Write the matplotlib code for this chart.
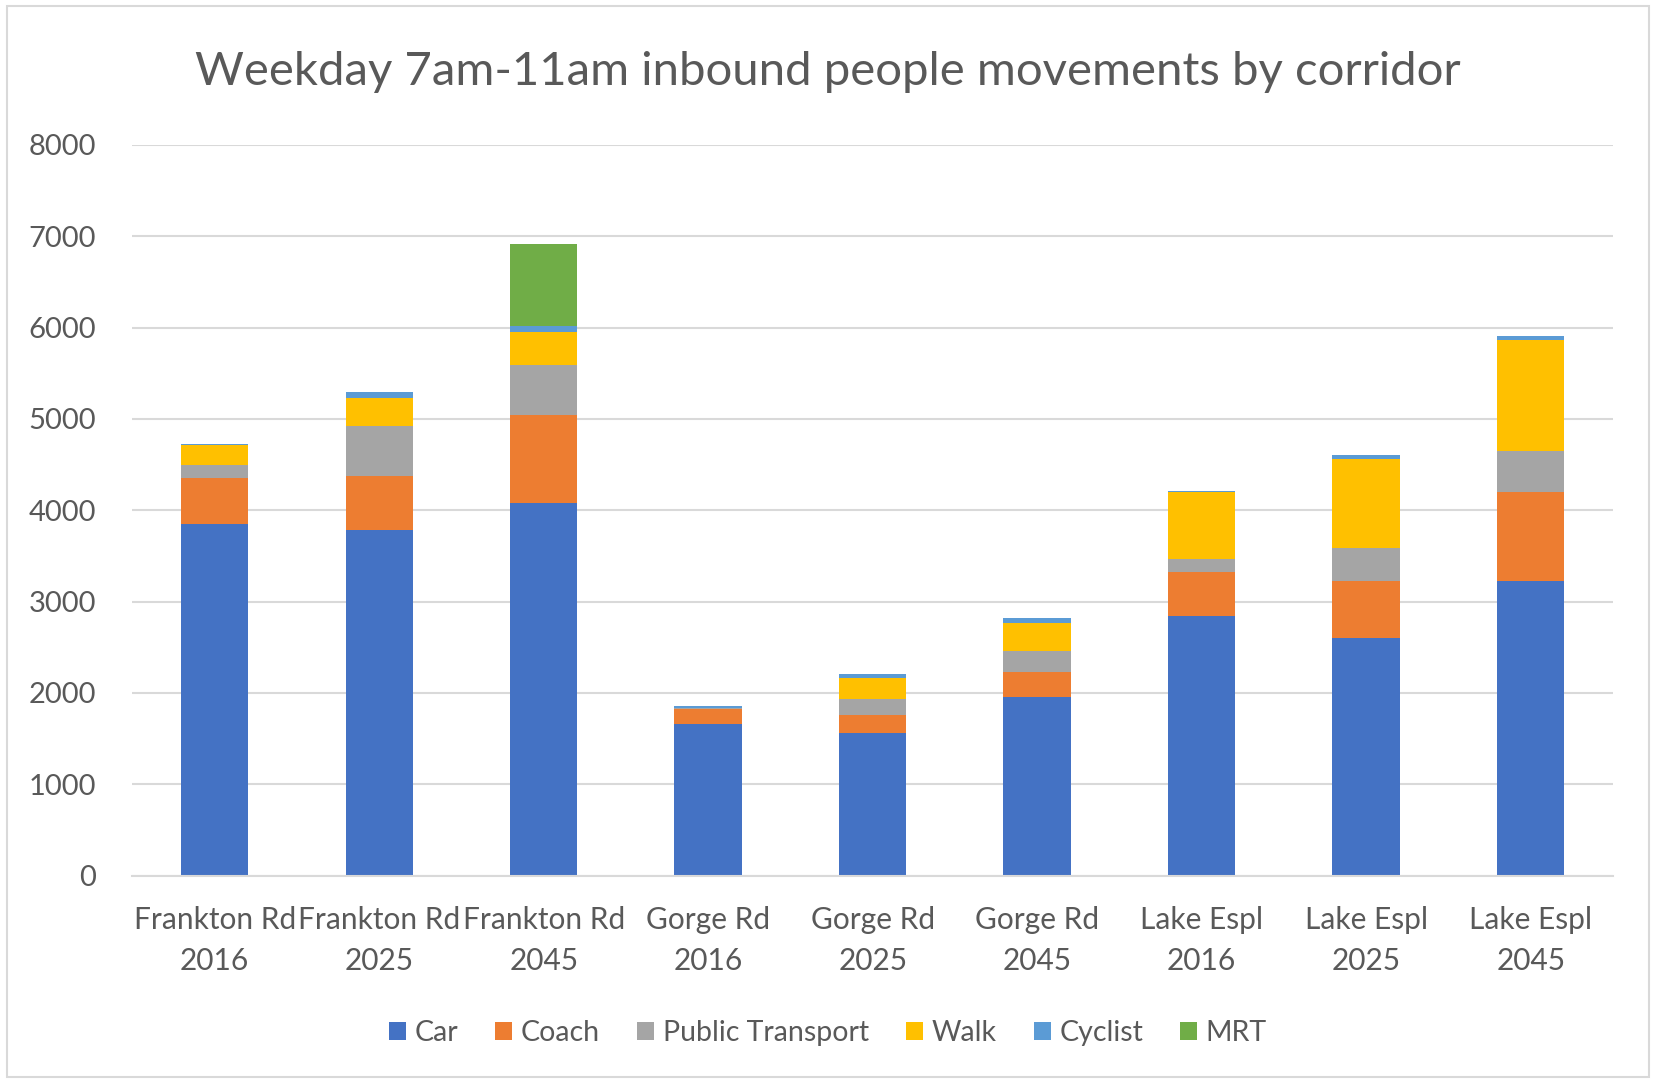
import matplotlib.pyplot as plt
import numpy as np
from matplotlib.patches import Rectangle

plt.rcParams['font.family'] = ['Lato', 'DejaVu Sans']

# corridors / years along the x axis
corridors = ["Frankton Rd\n2016", "Frankton Rd\n2025", "Frankton Rd\n2045",
             "Gorge Rd\n2016", "Gorge Rd\n2025", "Gorge Rd\n2045",
             "Lake Espl\n2016", "Lake Espl\n2025", "Lake Espl\n2045"]

# people movements per mode, 7am-11am inbound
car = [3850, 3780, 4080, 1660, 1560, 1950, 2840, 2600, 3220]
coach = [500, 600, 960, 160, 200, 280, 485, 620, 980]
public_transport = [150, 540, 550, 20, 170, 230, 140, 370, 450]
walk = [210, 310, 360, 0, 230, 310, 740, 970, 1210]
cyclist = [10, 60, 70, 20, 45, 45, 10, 45, 45]
mrt = [0, 0, 890, 0, 0, 0, 0, 0, 0]

modes = ["Car", "Coach", "Public Transport", "Walk", "Cyclist", "MRT"]
colours = ["#4472C4", "#ED7D31", "#A5A5A5", "#FFC000", "#5B9BD5", "#70AD47"]
series = [car, coach, public_transport, walk, cyclist, mrt]

txt = "#595959"

fig = plt.figure(figsize=(16.56, 10.81), dpi=100)
ax = fig.add_axes([0.080, 0.190, 0.894, 0.676])

x = np.arange(len(corridors))
bottom = np.zeros(len(corridors))
for name, col, vals in zip(modes, colours, series):
    vals = np.array(vals, dtype=float)
    ax.bar(x, vals, 0.41, bottom=bottom, color=col, label=name, zorder=2)
    bottom += vals

ax.set_ylim(0, 8000)
ax.set_xlim(-0.5, len(corridors) - 0.5)
ax.set_yticks(np.arange(0, 8001, 1000))
ax.set_xticks(x)
ax.set_xticklabels(corridors, fontsize=21.5, linespacing=1.55)
ax.grid(axis='y', color="#D9D9D9", linewidth=1.5, zorder=0)
for s in ["top", "right", "left"]:
    ax.spines[s].set_visible(False)
ax.spines["bottom"].set_color("#D9D9D9")
ax.spines["bottom"].set_linewidth(1.5)
ax.tick_params(axis='both', length=0, colors=txt)
ax.tick_params(axis='y', pad=26, labelsize=21)
ax.tick_params(axis='x', pad=22)

fig.text(0.5, 0.933, "Weekday 7am-11am inbound people movements by corridor",
         ha='center', va='center', fontsize=34, color=txt)

fig.legend(loc='center', bbox_to_anchor=(0.5, 0.044), ncol=6, frameon=False,
           fontsize=20.5, labelcolor=txt, handlelength=0.6, handleheight=0.6,
           handletextpad=0.3, columnspacing=1.3)

# thin chart border
fig.patches.append(Rectangle((0.004, 0.004), 0.992, 0.99, transform=fig.transFigure,
                             fill=False, edgecolor="#D9D9D9", linewidth=1.5))

fig.savefig("out.png", dpi=100)
